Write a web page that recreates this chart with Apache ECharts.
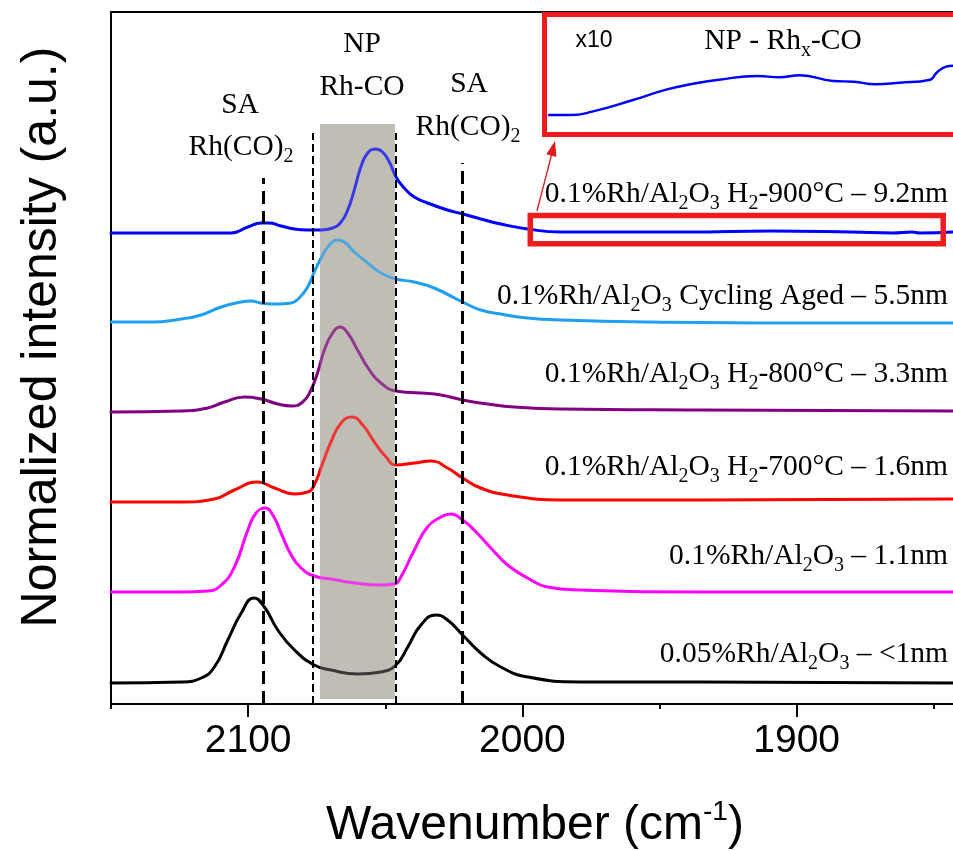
<!DOCTYPE html>
<html><head><meta charset="utf-8">
<script src="https://cdn.jsdelivr.net/npm/echarts@6/dist/echarts.min.js"></script>
<style>html,body{margin:0;padding:0;background:#fff}#c{width:953px;height:851px}</style>
</head><body><div id="c"></div>
<script>
// ---- data (wavenumber in cm-1, intensity in a.u. incl. vertical stacking offset) ----
const wnBlue = [2150, 2124.4, 2106.2, 2100.1, 2095.3, 2092.4, 2088, 2083.2, 2078.3, 2073.4, 2069.2, 2066.1, 2063.7, 2061.3, 2058.9, 2056.4, 2053.4, 2051, 2048.5, 2046.1, 2043.1, 2039.4, 2034.6, 2027.3, 2021.8, 2015.2, 2007.9, 1998.1, 1986, 1968.5, 1940, 1909.2, 1880, 1865, 1858, 1855, 1843];
const valBlue = [4.71, 4.71, 4.71, 4.77, 4.81, 4.81, 4.78, 4.75, 4.74, 4.74, 4.76, 4.82, 4.94, 5.14, 5.37, 5.51, 5.55, 5.52, 5.42, 5.27, 5.16, 5.07, 5.01, 4.94, 4.90, 4.85, 4.80, 4.75, 4.72, 4.72, 4.72, 4.73, 4.72, 4.71, 4.72, 4.71, 4.72];

const wnCyc = [2150, 2135.3, 2124.4, 2117.1, 2109.8, 2102.5, 2098.9, 2095.3, 2089.2, 2084.3, 2081.4, 2078.3, 2075.9, 2073.4, 2070.4, 2067.3, 2064.9, 2061.3, 2056.4, 2051.6, 2046.1, 2039.4, 2032.2, 2021.8, 2015.2, 2007.9, 1998.1, 1986, 1953, 1900, 1843];
const valCyc = [3.82, 3.82, 3.85, 3.89, 3.97, 4.02, 4.03, 4.01, 4.00, 4.01, 4.06, 4.17, 4.32, 4.46, 4.59, 4.64, 4.62, 4.52, 4.41, 4.31, 4.25, 4.22, 4.16, 4.02, 3.94, 3.90, 3.86, 3.84, 3.82, 3.81, 3.81];

const wn800 = [2150, 2124.4, 2114.7, 2108.6, 2101.3, 2095.3, 2089.2, 2084.3, 2080.1, 2077.1, 2074.6, 2072.2, 2069.2, 2066.4, 2063.7, 2060.1, 2055.8, 2051.6, 2046.1, 2037, 2029.7, 2021.8, 2012.7, 2003, 1986, 1935, 1843];
const val800 = [2.92, 2.93, 2.96, 3.02, 3.07, 3.05, 3.00, 2.98, 3.02, 3.14, 3.32, 3.54, 3.71, 3.77, 3.71, 3.54, 3.34, 3.21, 3.13, 3.11, 3.09, 3.04, 3.00, 2.97, 2.95, 2.94, 2.93];

const wn700 = [2150, 2124.4, 2112.3, 2105, 2096.5, 2090.4, 2083.1, 2078.3, 2075.9, 2072.8, 2069.8, 2066.1, 2062.2, 2058.2, 2054, 2049.7, 2046.1, 2039.4, 2033.4, 2027.3, 2021.8, 2015.2, 2005.4, 1986, 1935, 1843];
const val700 = [2.02, 2.02, 2.05, 2.14, 2.22, 2.16, 2.10, 2.12, 2.19, 2.41, 2.62, 2.81, 2.87, 2.79, 2.62, 2.47, 2.39, 2.41, 2.43, 2.36, 2.26, 2.16, 2.09, 2.04, 2.04, 2.05];

const wnFresh = [2150, 2124.4, 2114.7, 2109.8, 2105, 2100.1, 2097.1, 2093.8, 2091, 2088, 2084.3, 2080.7, 2075.9, 2069.8, 2061.3, 2051.6, 2046.7, 2044.3, 2039.4, 2034.6, 2029.7, 2026.1, 2021.8, 2017.6, 2011.5, 2005.4, 1998.1, 1990.9, 1978.7, 1935, 1843];
const valFresh = [1.12, 1.12, 1.13, 1.19, 1.37, 1.74, 1.91, 1.96, 1.89, 1.71, 1.49, 1.36, 1.28, 1.25, 1.21, 1.19, 1.20, 1.27, 1.54, 1.77, 1.87, 1.90, 1.84, 1.74, 1.56, 1.39, 1.26, 1.17, 1.14, 1.12, 1.12];

const wnLow = [2150, 2124.4, 2117.1, 2112.3, 2107.4, 2102.5, 2097.9, 2094.1, 2089.2, 2083.1, 2075.9, 2069.8, 2060.1, 2051.6, 2046.1, 2041.8, 2037, 2031.5, 2027.3, 2021.8, 2015.2, 2007.9, 1998.1, 1978.7, 1935, 1843];
const valLow = [0.21, 0.22, 0.26, 0.37, 0.64, 0.91, 1.06, 0.97, 0.74, 0.54, 0.39, 0.34, 0.30, 0.32, 0.39, 0.57, 0.79, 0.89, 0.84, 0.69, 0.51, 0.37, 0.27, 0.22, 0.22, 0.21];

// x10 magnified view of the 9.2nm spectrum
const wnInset = [1995.5, 1987.5, 1979.8, 1964.9, 1952.5, 1942, 1934.3, 1919.4, 1911.7, 1904.1, 1892, 1884.4, 1876.8, 1867.7, 1857.1, 1854, 1850.9, 1848.4];
const valInset = [1.7, 1.7, 2.03, 3.2, 4.27, 4.87, 5.2, 5.6, 5.47, 5.67, 5.1, 5.03, 4.77, 4.93, 5.2, 6.03, 6.53, 6.63];

const majorTicks = [2100, 2000, 1900];
const minorTicks = [2150, 2050, 1950, 1850];
const refLines = [2094.5, 2076.3, 2046.1, 2022];
const refTops = [5.26, 5.71, 5.71, 5.41];
const npBand = [2073.8, 2046.5];
const npBandY = [0.05, 5.80];

const sampleLabels = [
  '{m|0.1%Rh/Al}{s|2}{m|O}{s|3}{m| H}{s|2}{m|-900°C – 9.2nm}',
  '{m|0.1%Rh/Al}{s|2}{m|O}{s|3}{m| Cycling Aged – 5.5nm}',
  '{m|0.1%Rh/Al}{s|2}{m|O}{s|3}{m| H}{s|2}{m|-800°C – 3.3nm}',
  '{m|0.1%Rh/Al}{s|2}{m|O}{s|3}{m| H}{s|2}{m|-700°C – 1.6nm}',
  '{m|0.1%Rh/Al}{s|2}{m|O}{s|3}{m| – 1.1nm}',
  '{m|0.05%Rh/Al}{s|2}{m|O}{s|3}{m| – <1nm}'
];

// ---- styling ----
const SERIF = '"Liberation Serif","Times New Roman",serif';
const SANS = '"Liberation Sans",Arial,sans-serif';
const spectra = [
  {wn: wnBlue, val: valBlue, color: '#0000ff'},
  {wn: wnCyc, val: valCyc, color: '#1e9ff0'},
  {wn: wn800, val: val800, color: '#800080'},
  {wn: wn700, val: val700, color: '#ff0000'},
  {wn: wnFresh, val: valFresh, color: '#ff00ff'},
  {wn: wnLow, val: valLow, color: '#000000'}
];
const labelY = [194, 296, 374, 467, 556, 654];
const pairs = (w, v) => w.map((x, i) => [x, v[i]]);

const chart = echarts.init(document.getElementById('c'), null, {renderer: 'canvas'});

const series = spectra.map(s => ({
  type: 'line', xAxisIndex: 0, yAxisIndex: 0, data: pairs(s.wn, s.val),
  showSymbol: false, symbol: 'none', smooth: 0.5,
  lineStyle: {color: s.color, width: 3, cap: 'round', join: 'round'}, z: 2, silent: true
}));
const bandArea = [[{xAxis: npBand[0], yAxis: npBandY[0]}, {xAxis: npBand[1], yAxis: npBandY[1]}]];
series.push({
  type: 'line', xAxisIndex: 0, yAxisIndex: 0, data: [], silent: true,
  markArea: {silent: true, z: 1, itemStyle: {color: '#c0bdb5'}, data: bandArea}
});
series.push({
  type: 'line', xAxisIndex: 0, yAxisIndex: 0, data: [], silent: true,
  markArea: {silent: true, z: 3, itemStyle: {color: 'rgba(192,189,181,0.3)'}, data: bandArea},
  markLine: {
    silent: true, z: 5, symbol: ['none', 'none'], label: {show: false}, animation: false,
    data: refLines.map((x, i) => {
      const thick = (i === 0 || i === 3);
      return [{coord: [x, 0], lineStyle: {color: '#000', width: thick ? 3 : 2, type: thick ? [13, 7] : [8, 4]}},
              {coord: [x, refTops[i]]}];
    })
  }
});
series.push({
  type: 'line', xAxisIndex: 3, yAxisIndex: 1, data: pairs(wnInset, valInset),
  showSymbol: false, symbol: 'none', smooth: 0.5,
  lineStyle: {color: '#0000ff', width: 2.4, cap: 'round', join: 'round'}, z: 2, silent: true
});

const subRich = {
  m: {fontFamily: SERIF, fontSize: 29.5, lineHeight: 40, fill: '#000'},
  s: {fontFamily: SERIF, fontSize: 20, lineHeight: 12, verticalAlign: 'bottom', fill: '#000'}
};
const txt = (x, y, text, extra) => Object.assign({
  type: 'text', x: x, y: y, z: 20,
  style: Object.assign({text: text, rich: subRich, align: 'center', verticalAlign: 'middle', fill: '#000'}, extra || {})
});

const red = '#ee1c1c';
const graphic = [
  {type: 'rect', z: 15, shape: {x: 544.5, y: 14.5, width: 430, height: 120}, style: {fill: 'none', stroke: red, lineWidth: 5}},
  {type: 'rect', z: 15, shape: {x: 530.3, y: 215.5, width: 412.9, height: 28.3}, style: {fill: 'none', stroke: red, lineWidth: 5.5}},
  {type: 'line', z: 15, shape: {x1: 537, y1: 211, x2: 551.5, y2: 155}, style: {stroke: '#d42020', lineWidth: 1.3}},
  {type: 'polygon', z: 15, shape: {points: [[555, 141], [556.4, 157], [546.3, 154.2]]}, style: {fill: '#e01b1b'}},
  txt(240, 105, '{m|SA}'),
  txt(241, 147, '{m|Rh(CO)}{s|2}'),
  txt(362, 44, '{m|NP}'),
  txt(362, 87, '{m|Rh-CO}'),
  txt(469, 84, '{m|SA}'),
  txt(468, 127, '{m|Rh(CO)}{s|2}'),
  txt(594, 41, 'x10', {rich: null, fontFamily: SANS, fontSize: 23}),
  txt(783, 41, '{m|NP - Rh}{s|x}{m|-CO}'),
  {type: 'text', z: 20, x: 42, y: 337, rotation: Math.PI / 2,
   style: {text: 'Normalized intensity (a.u.)', fontFamily: SANS, fontSize: 50, fill: '#000', align: 'center', verticalAlign: 'middle'}},
  {type: 'text', z: 20, x: 535, y: 826,
   style: {text: '{m|Wavenumber (cm}{p|-1}{m|)}', align: 'center', verticalAlign: 'middle', fill: '#000',
     rich: {m: {fontFamily: SANS, fontSize: 48, lineHeight: 56, fill: '#000'},
            p: {fontFamily: SANS, fontSize: 28, lineHeight: 20, verticalAlign: 'top', fill: '#000'}}}}
];
sampleLabels.forEach((t, i) => graphic.push(txt(948, labelY[i], t, {align: 'right'})));

chart.setOption({
  animation: false,
  backgroundColor: '#fff',
  grid: [
    {left: 111, right: 0, top: 12, bottom: 147, outerBoundsMode: 'none'},
    {left: 547, right: 0, top: 17, height: 115, outerBoundsMode: 'none'}
  ],
  xAxis: [
    {gridIndex: 0, type: 'value', min: 1843, max: 2150, inverse: true, position: 'bottom',
     axisLine: {show: true, onZero: false, lineStyle: {color: '#000', width: 2}},
     axisTick: {show: true, length: 13, lineStyle: {color: '#000', width: 2}, customValues: majorTicks},
     axisLabel: {show: true, margin: 18, fontSize: 39, fontFamily: SANS, color: '#000', customValues: majorTicks,
                 formatter: v => String(v)},
     splitLine: {show: false}},
    {gridIndex: 0, type: 'value', min: 1843, max: 2150, inverse: true, position: 'bottom',
     axisLine: {show: false},
     axisTick: {show: true, length: 5, lineStyle: {color: '#000', width: 2}, customValues: minorTicks},
     axisLabel: {show: false}, splitLine: {show: false}},
    {gridIndex: 0, type: 'value', min: 1843, max: 2150, inverse: true, position: 'top',
     axisLine: {show: true, onZero: false, lineStyle: {color: '#000', width: 2}},
     axisTick: {show: false}, axisLabel: {show: false}, splitLine: {show: false}},
    {gridIndex: 1, type: 'value', min: 1848.4, max: 1996.2, inverse: true, show: false}
  ],
  yAxis: [
    {gridIndex: 0, type: 'value', min: 0, max: 6.92,
     axisLine: {show: true, onZero: false, lineStyle: {color: '#000', width: 2}},
     axisTick: {show: false}, axisLabel: {show: false}, splitLine: {show: false}},
    {gridIndex: 1, type: 'value', min: 0, max: 11.5, show: false}
  ],
  series: series,
  graphic: graphic
});
</script></body></html>
